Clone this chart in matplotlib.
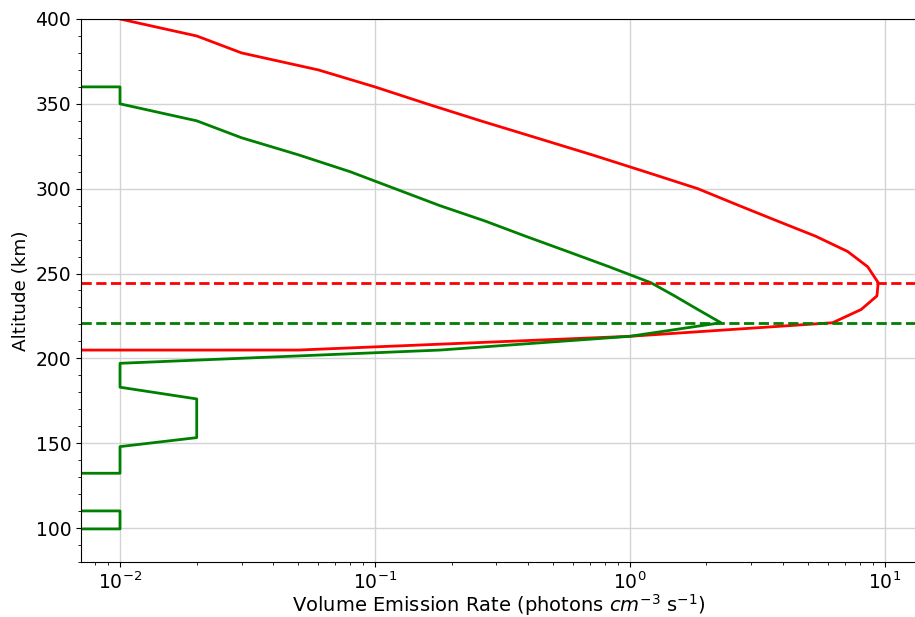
import numpy as np
import matplotlib
matplotlib.use("Agg")
import matplotlib.pyplot as plt
from matplotlib.ticker import MultipleLocator

# Altitude grid (km) shared by both emission profiles
altitude = [80.0, 90.0, 99.5, 110.1, 121.0, 132.3, 148.0, 153.3, 176.1, 183.0,
            197.1, 204.9, 213.0, 221.0, 228.8, 236.8, 244.6, 254.0, 263.0, 272.0,
            281.0, 290.0, 300.0, 310.0, 320.0, 330.0, 340.0, 350.0, 360.0, 370.0,
            380.0, 390.0, 400.0]

# Volume emission rate (photons cm^-3 s^-1), rounded to two decimals
red_ver = [0.00, 0.00, 0.00, 0.00, 0.00, 0.00, 0.00, 0.00, 0.00, 0.00,
           0.00, 0.05, 1.00, 6.25, 8.09, 9.33, 9.44, 8.58, 7.16, 5.36,
           3.79, 2.69, 1.85, 1.15, 0.71, 0.43, 0.26, 0.16, 0.10, 0.06,
           0.03, 0.02, 0.01]

green_ver = [0.00, 0.00, 0.01, 0.01, 0.00, 0.01, 0.01, 0.02, 0.02, 0.01,
             0.01, 0.18, 1.00, 2.28, 1.85, 1.50, 1.21, 0.83, 0.57, 0.39,
             0.27, 0.18, 0.12, 0.08, 0.05, 0.03, 0.02, 0.01, 0.01, 0.00,
             0.00, 0.00, 0.00]

alt = np.array(altitude)
red = np.array(red_ver)
green = np.array(green_ver)

# Peak altitudes of each profile
red_peak = alt[np.argmax(red)]
green_peak = alt[np.argmax(green)]

fig = plt.figure(figsize=(9.15, 6.17), dpi=100)
ax = fig.add_axes([81 / 915, 55 / 617, 836 / 915, 543 / 617])

ax.plot(red, alt, color="red", lw=2)
ax.plot(green, alt, color="green", lw=2)
ax.axhline(red_peak, color="red", ls="--", lw=2)
ax.axhline(green_peak, color="green", ls="--", lw=2)

ax.set_xscale("log")
ax.set_xlim(0.00703, 13.4)
ax.set_ylim(80, 400)
ax.yaxis.set_major_locator(MultipleLocator(50))
ax.yaxis.set_minor_locator(MultipleLocator(10))
ax.grid(True, which="major", color="#d3d3d3", lw=1)

ax.tick_params(axis="both", which="major", labelsize=13.5)
ax.set_xlabel("Volume Emission Rate (photons $cm^{-3}$ s$^{-1}$)", fontsize=14)
ax.xaxis.set_label_coords(0.5, -0.055)
ax.set_ylabel("Altitude (km)", fontsize=13.2)

fig.savefig("out.png", dpi=100)
